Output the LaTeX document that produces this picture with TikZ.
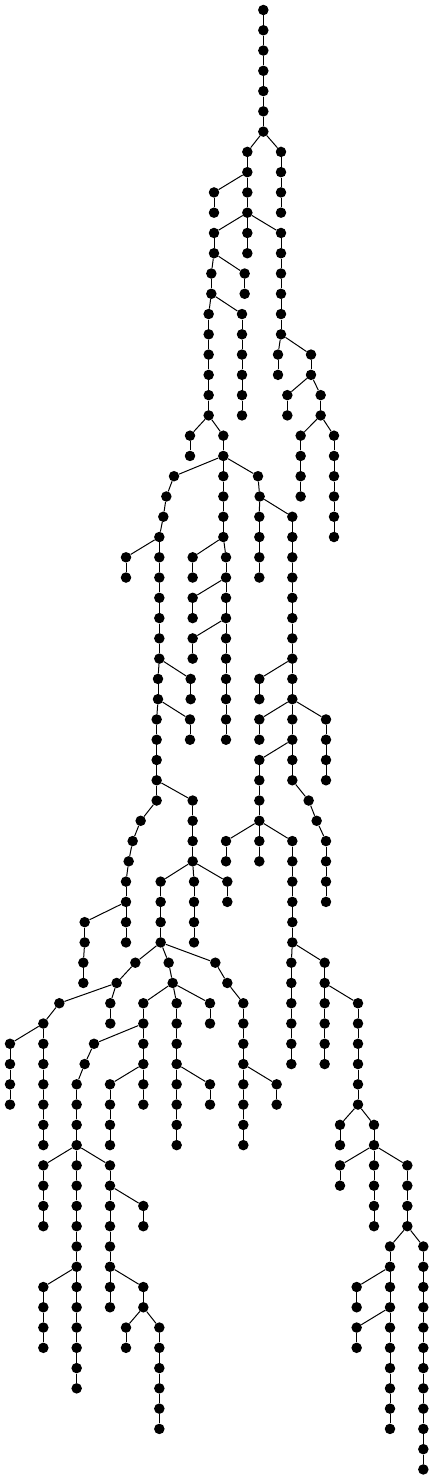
\documentclass[tikz,border=0pt]{standalone}
\newcommand\treelevel[2]{%
  \pgfmathtruncatemacro\Qlev{#1-1}%
  \foreach \X/\P in {#2} {%
    \node[tdot] (n#1-\X) at (\X*0.333333pt,-10pt-#1*20.27pt) {};
    \draw[edge] (n\Qlev-\P) -- (n#1-\X);
  }%
}
\begin{document}
\begin{tikzpicture}[tdot/.style={circle,fill=black,inner sep=0pt,minimum size=10.5pt},edge/.style={line width=1pt}]
\useasboundingbox (0pt,0pt) rectangle (434pt,-1479pt);
\node[tdot] (n0-790) at (790*0.333333pt,-10pt) {};
\treelevel{1}{790/790}
\treelevel{2}{790/790}
\treelevel{3}{790/790}
\treelevel{4}{790/790}
\treelevel{5}{790/790}
\treelevel{6}{790/790}
\treelevel{7}{742/790,843/790}
\treelevel{8}{742/742,843/843}
\treelevel{9}{642/742,742/742,843/843}
\treelevel{10}{642/642,742/742,843/843}
\treelevel{11}{642/742,742/742,843/742}
\treelevel{12}{642/642,742/742,843/843}
\treelevel{13}{634/642,734/642,843/843}
\treelevel{14}{634/634,734/734,843/843}
\treelevel{15}{626/634,726/634,843/843}
\treelevel{16}{626/626,726/726,843/843}
\treelevel{17}{626/626,726/726,834/843,933/843}
\treelevel{18}{626/626,726/726,834/834,933/933}
\treelevel{19}{626/626,726/726,862/933,962/933}
\treelevel{20}{626/626,726/726,862/862,962/962}
\treelevel{21}{570/626,670/626,902/962,1002/962}
\treelevel{22}{570/570,670/670,902/902,1002/1002}
\treelevel{23}{522/670,670/670,774/670,902/902,1002/1002}
\treelevel{24}{499/522,670/670,779/774,902/902,1002/1002}
\treelevel{25}{490/499,670/670,778/779,877/779,1002/1002}
\treelevel{26}{478/490,670/670,778/778,877/877,1002/1002}
\treelevel{27}{378/478,478/478,578/670,678/670,778/778,877/877}
\treelevel{28}{378/378,478/478,578/578,678/678,778/778,877/877}
\treelevel{29}{478/478,578/678,678/678,877/877}
\treelevel{30}{478/478,578/578,678/678,877/877}
\treelevel{31}{478/478,578/678,678/678,877/877}
\treelevel{32}{478/478,578/578,678/678,877/877}
\treelevel{33}{474/478,572/478,678/678,778/877,877/877}
\treelevel{34}{474/474,572/572,678/678,778/778,877/877}
\treelevel{35}{470/474,570/474,678/678,778/877,877/877,978/877}
\treelevel{36}{470/470,570/570,678/678,778/778,877/877,978/978}
\treelevel{37}{470/470,778/877,877/877,978/978}
\treelevel{38}{470/470,778/778,877/877,978/978}
\treelevel{39}{470/470,578/470,778/778,926/877}
\treelevel{40}{422/470,578/578,778/778,950/926}
\treelevel{41}{398/422,578/578,678/778,778/778,877/778,978/950}
\treelevel{42}{386/398,578/578,678/678,778/778,877/877,978/978}
\treelevel{43}{378/386,482/578,582/578,682/578,877/877,978/978}
\treelevel{44}{378/378,482/482,582/582,682/682,877/877,978/978}
\treelevel{45}{254/378,378/378,482/482,582/582,877/877}
\treelevel{46}{254/254,378/378,482/482,582/582,877/877}
\treelevel{47}{250/254,406/482,506/482,646/482,874/877,974/877}
\treelevel{48}{250/250,350/406,518/506,682/646,874/874,974/974}
\treelevel{49}{178/350,331/350,430/518,530/518,630/518,730/682,874/874,974/974,1074/974}
\treelevel{50}{130/178,331/331,430/430,530/530,630/630,730/730,874/874,974/974,1074/1074}
\treelevel{51}{30/130,130/130,282/430,430/430,530/530,730/730,874/874,974/974,1074/1074}
\treelevel{52}{30/30,130/130,254/282,430/430,530/530,730/730,874/874,974/974,1074/1074}
\treelevel{53}{30/30,130/130,230/254,330/430,430/430,530/530,630/530,730/730,830/730,1074/1074}
\treelevel{54}{30/30,130/130,230/230,330/330,430/430,530/530,630/630,730/730,830/830,1074/1074}
\treelevel{55}{130/130,230/230,330/330,530/530,730/730,1020/1074,1122/1074}
\treelevel{56}{130/130,230/230,330/330,530/530,730/730,1020/1020,1122/1122}
\treelevel{57}{130/230,230/230,330/230,1020/1122,1122/1122,1222/1122}
\treelevel{58}{130/130,230/230,330/330,1020/1020,1122/1122,1222/1222}
\treelevel{59}{130/130,230/230,330/330,430/330,1122/1122,1222/1222}
\treelevel{60}{130/130,230/230,330/330,430/430,1122/1122,1222/1222}
\treelevel{61}{230/230,330/330,1170/1222,1270/1222}
\treelevel{62}{230/230,330/330,1170/1170,1270/1270}
\treelevel{63}{130/230,230/230,330/330,430/330,1070/1170,1170/1170,1270/1270}
\treelevel{64}{130/130,230/230,330/330,430/430,1070/1070,1170/1170,1270/1270}
\treelevel{65}{130/130,230/230,378/430,478/430,1070/1170,1170/1170,1270/1270}
\treelevel{66}{130/130,230/230,378/378,478/478,1070/1070,1170/1170,1270/1270}
\treelevel{67}{230/230,478/478,1170/1170,1270/1270}
\treelevel{68}{230/230,478/478,1170/1170,1270/1270}
\treelevel{69}{478/478,1170/1170,1270/1270}
\treelevel{70}{478/478,1170/1170,1270/1270}
\treelevel{71}{1270/1270}
\treelevel{72}{1270/1270}
\end{tikzpicture}
\end{document}
